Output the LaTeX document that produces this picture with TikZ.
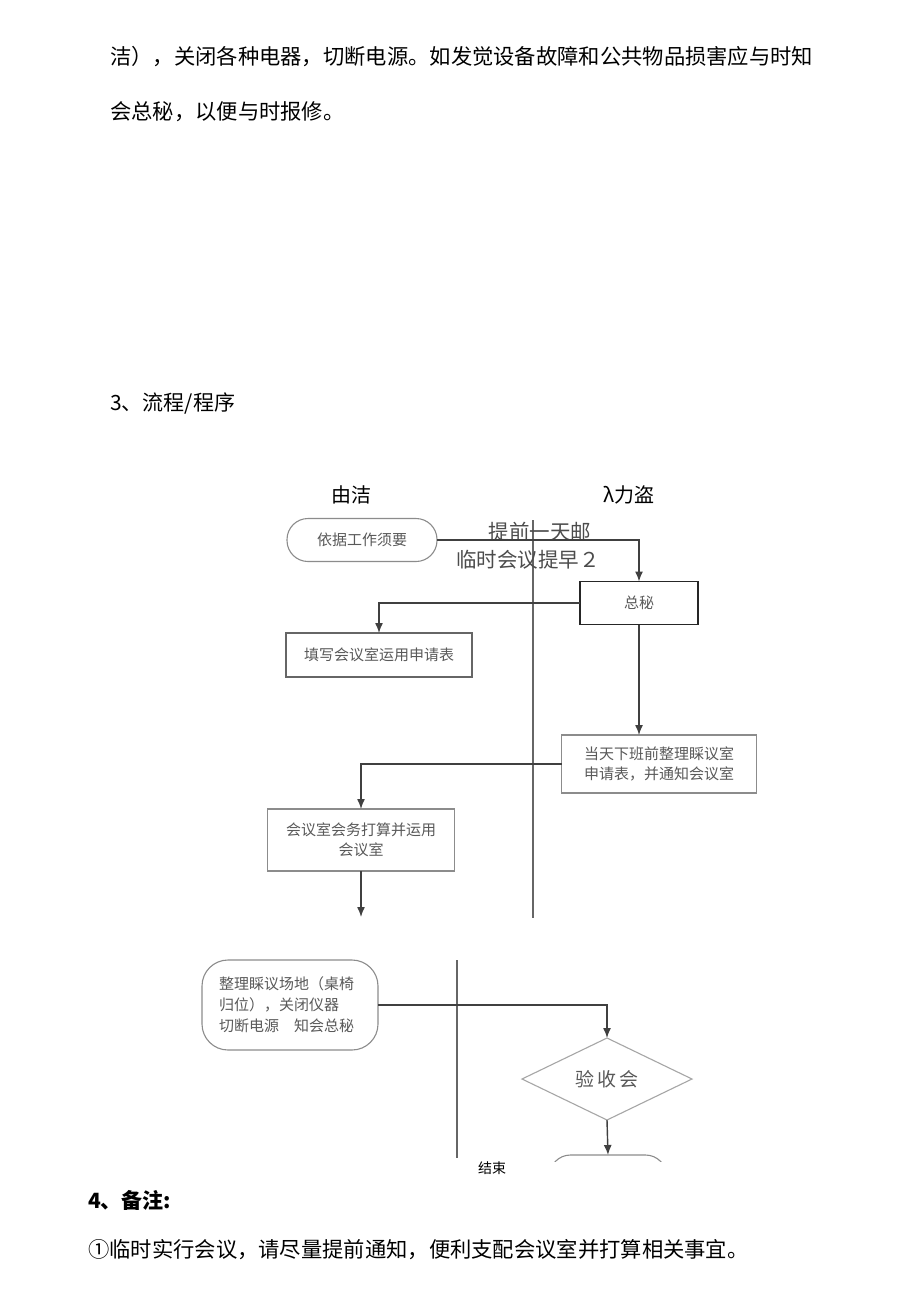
\documentclass[tikz,border=0pt]{standalone}
\usepackage{fontspec}
\setmainfont{Noto Sans CJK SC}
\usetikzlibrary{positioning,shapes.geometric,arrows.meta}
\newcommand{\fsz}[2]{\fontsize{#1}{#2}\selectfont}
\tikzstyle{bordered} = [align=center,draw=black!45,line width=1.1pt,outer sep=0,inner sep=1,text=black!65,font=\fsz{15}{20}]
\tikzstyle{terminal} = [bordered,rounded corners=21pt]
\tikzstyle{decision} = [diamond,draw=black!35,line width=1.1pt,outer sep=0,inner sep=0,text=black!65,font=\fsz{19}{22}]
\tikzstyle{arrow} = [-{Latex[length=10pt,width=8pt]},draw=black!75,line width=1.4pt]
\tikzstyle{lane} = [draw=black!60,line width=1.4pt]
\tikzstyle{body} = [anchor=west,inner sep=0,font=\fsz{21.3}{24}]

\begin{document}
\begin{tikzpicture}[x=1pt,y=-1pt]
    \fill[white] (0,0) rectangle (920,1301);
    \useasboundingbox (0,0) rectangle (920,1301);

    % text of the page
    \node [body] (t1) at (110,57) {洁），关闭各种电器，切断电源。如发觉设备故障和公共物品损害应与时知};
    \node [body] (t2) at (110,112) {会总秘，以便与时报修。};
    \node [body,font=\fsz{21}{24}] (t3) at (110,404) {3、流程/程序};
    \node [body,font=\bfseries\fsz{21}{24}] (t4) at (88,1200) {4、备注:};
    \node [body] (t5) at (88,1250) {①临时实行会议，请尽量提前通知，便利支配会议室并打算相关事宜。};

    % lanes
    \node [font=\fsz{20}{24}] (h1) at (351,495) {由洁};
    \node [font=\fsz{20}{24}] (h2) at (629,495) {λ力盗};
    \draw [lane] (533,520) -- (533,918);
    \draw [lane] (457,960) -- (457,1158);

    \node [terminal,minimum width=150pt,minimum height=43pt] (v0) at (362,540) {依据工作须要};
    \node [bordered,draw=black!85,minimum width=118pt,minimum height=43pt] (v1) at (639,603) {总秘};
    \node [bordered,draw=black!60,minimum width=186pt,minimum height=44pt] (v2) at (379,655) {填写会议室运用申请表};
    \node [bordered,minimum width=195pt,minimum height=58pt] (v3) at (659,764) {当天下班前整理睬议室\\申请表，并通知会议室};
    \node [bordered,minimum width=187pt,minimum height=62pt] (v4) at (361,840) {会议室会务打算并运用\\会议室};
    \coordinate (c0) at (361,917);

    \node [terminal,rounded corners=26pt,align=left,text width=142pt,font=\fsz{15}{21},minimum width=176pt,minimum height=90pt] (v5) at (290,1005) {整理睬议场地（桌椅\\归位），关闭仪器\\切断电源\quad 知会总秘};
    \node [decision,minimum width=170pt,minimum height=82pt] (v6) at (607,1079) {验\hspace{3pt}收\hspace{3pt}会};
    \begin{scope}
      \clip (0,0) rectangle (920,1161);
      \node [terminal,minimum width=117pt,minimum height=46pt] (v7) at (608,1178) {};
    \end{scope}
    \node [font=\fsz{14}{16}] (e1) at (492,1168) {结束};

    \node [font=\fsz{20.5}{24},text=black!70] (l1) at (540,532) {提前一天邮};
    \node [font=\fsz{20.5}{24},text=black!70] (l2) at (528,560) {临时会议提早２};

    \draw [arrow] (v0.east) -| (v1.north);
    \draw [arrow] (v1.west) -| (v2.north);
    \draw [arrow] (v1.south) -- (v1.south |- v3.north);
    \draw [arrow] (v3.west) -| (v4.north);
    \draw [arrow] (v4.south) -- (c0);
    \draw [arrow] (v5.east) -| (v6.north);
    \draw [arrow] (v6.south) -- (v7.north);
  \end{tikzpicture}
\end{document}
